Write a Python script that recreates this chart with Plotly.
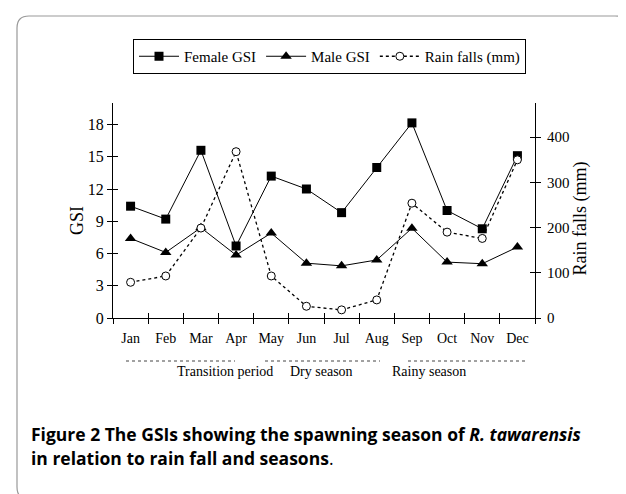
import plotly.graph_objects as go

months = ["Jan", "Feb", "Mar", "Apr", "May", "Jun", "Jul", "Aug", "Sep", "Oct", "Nov", "Dec"]
female_gsi = [10.4, 9.2, 15.6, 6.7, 13.2, 12.0, 9.8, 14.0, 18.15, 10.0, 8.3, 15.1]
male_gsi = [7.4, 6.1, 8.4, 5.85, 7.9, 5.1, 4.85, 5.4, 8.35, 5.2, 5.05, 6.6]
rainfall = [79, 93, 199, 368, 93, 26, 18, 40, 254, 190, 176, 350]
gsi_ticks = [0, 3, 6, 9, 12, 15, 18]
rain_ticks = [0, 100, 200, 300, 400]
seasons = ["Transition period", "Dry season", "Rainy season"]

SERIF = "Liberation Serif"
W, H = 626, 494
L, R, T, B = 105, 99, 95, 184
PW, PH = W - L - R, H - T - B


def px(x):
    return (x - L) / PW


def py(y):
    return (H - B - y) / PH


fig = go.Figure()
fig.add_trace(go.Scatter(
    x=months, y=female_gsi, name="Female GSI", mode="lines+markers",
    line=dict(color="black", width=1),
    marker=dict(symbol="square", size=9, color="black"),
))
fig.add_trace(go.Scatter(
    x=months, y=male_gsi, name="Male GSI", mode="lines+markers",
    line=dict(color="black", width=1),
    marker=dict(symbol="triangle-up", size=10, color="black"),
))
fig.add_trace(go.Scatter(
    x=months, y=rainfall, name="Rain falls (mm)", mode="lines+markers", yaxis="y2",
    line=dict(color="black", width=1.3, dash="dot"),
    marker=dict(symbol="circle", size=8, color="white", line=dict(color="black", width=1)),
))

gsi_range = [0, 20.0]
rain_range = [0, 475.7]
axcommon = dict(showgrid=False, zeroline=False, linecolor="black", linewidth=1,
                tickcolor="black", tickwidth=1, ticklen=5)

fig.update_layout(
    width=W, height=H,
    margin=dict(l=L, r=R, t=T, b=B),
    paper_bgcolor="white", plot_bgcolor="white",
    font=dict(family=SERIF, color="black"),
    xaxis=dict(type="category", categoryarray=months, range=[-0.5, 11.5],
               tickson="boundaries", ticks="outside", showline=True, ticklabelstandoff=7,
               tickfont=dict(size=14, family=SERIF), **axcommon),
    xaxis2=dict(overlaying="x", anchor="y", range=[-0.5, 11.5],
                tickvals=[i - 0.5 for i in range(13)], ticks="inside",
                showticklabels=False, showline=False, side="bottom", **axcommon),
    yaxis=dict(range=gsi_range, tickvals=gsi_ticks, ticks="outside", showline=True,
               tickfont=dict(size=16, family=SERIF), **axcommon),
    yaxis2=dict(range=rain_range, tickvals=rain_ticks, ticks="outside", showline=True,
                overlaying="y", side="right", anchor="x", ticklabelstandoff=3,
                tickfont=dict(size=15, family=SERIF), **axcommon),
    yaxis3=dict(range=gsi_range, tickvals=gsi_ticks, ticks="inside", showline=False,
                overlaying="y", side="left", anchor="x", showticklabels=False, **axcommon),
    yaxis4=dict(range=rain_range, tickvals=rain_ticks, ticks="inside", showline=False,
                overlaying="y", side="right", anchor="x", showticklabels=False, **axcommon),
    showlegend=True,
    legend=dict(orientation="h", x=px(125), y=py(31), xanchor="left", yanchor="top",
                bordercolor="black", borderwidth=1, bgcolor="white",
                font=dict(size=15, family=SERIF), itemwidth=40,
                tracegroupgap=0),
)

# empty traces so the overlay tick axes render
fig.add_trace(go.Scatter(x=[None], y=[None], xaxis="x2", yaxis="y3", showlegend=False, hoverinfo="skip"))
fig.add_trace(go.Scatter(x=[None], y=[None], yaxis="y4", showlegend=False, hoverinfo="skip"))

ann = []
ann.append(dict(text="GSI", x=px(57), y=py(213), xref="paper", yref="paper", showarrow=False,
                textangle=-90, font=dict(size=18, family=SERIF)))
ann.append(dict(text="Rain falls (mm)", x=px(584), y=py(211), xref="paper", yref="paper",
                showarrow=False, textangle=-90, font=dict(size=18, family=SERIF)))
season_x = [167, 313, 460]
dash_segs = [(118, 227), (257, 372), (400, 517)]
for s, cx in zip(seasons, season_x):
    ann.append(dict(text=s, x=px(cx), y=py(373), xref="paper", yref="paper", showarrow=False,
                    font=dict(size=14, family=SERIF)))
ann.append(dict(text="<b>Figure 2 The GSIs showing the spawning season of <i>R. tawarensis</i></b>",
                x=px(21), y=py(440), xref="paper", yref="paper", xanchor="left", showarrow=False,
                font=dict(size=17.5, family="Open Sans", color="black")))
ann.append(dict(text="<b>in relation to rain fall and seasons</b>.",
                x=px(21), y=py(464), xref="paper", yref="paper", xanchor="left", showarrow=False,
                font=dict(size=17.5, family="Open Sans", color="black")))
fig.update_layout(annotations=ann)

shapes = []
for a, b in dash_segs:
    shapes.append(dict(type="line", xref="paper", yref="paper", x0=px(a), x1=px(b),
                       y0=py(353), y1=py(353), line=dict(color="#444", width=1, dash="3px,3px")))
# rounded figure border
x0, x1, y0, y1, r = 9, 619, 8, 491, 12
path = (f"M {px(x0 + r)},{py(y0)} L {px(x1 - r)},{py(y0)} Q {px(x1)},{py(y0)} {px(x1)},{py(y0 + r)} "
        f"L {px(x1)},{py(y1 - r)} Q {px(x1)},{py(y1)} {px(x1 - r)},{py(y1)} "
        f"L {px(x0 + r)},{py(y1)} Q {px(x0)},{py(y1)} {px(x0)},{py(y1 - r)} "
        f"L {px(x0)},{py(y0 + r)} Q {px(x0)},{py(y0)} {px(x0 + r)},{py(y0)} Z")
shapes.append(dict(type="path", xref="paper", yref="paper", path=path,
                   line=dict(color="#999", width=1.2)))
fig.update_layout(shapes=shapes)

fig.write_html("out.html")
